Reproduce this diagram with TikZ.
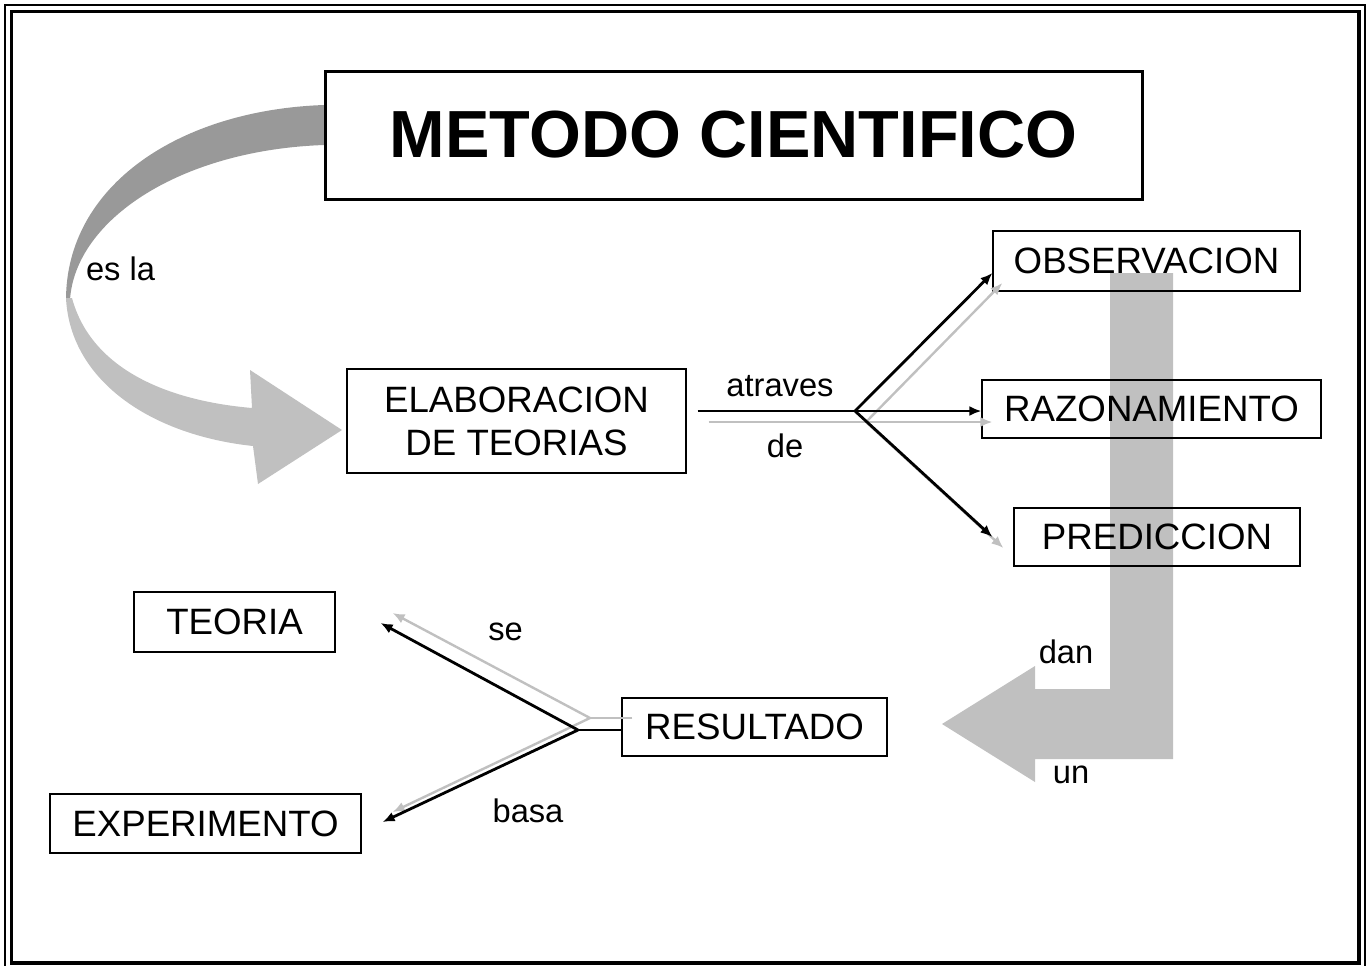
\documentclass[tikz,border=0pt]{standalone}
\usepackage{fontspec}
\setmainfont{Liberation Sans}
\usetikzlibrary{arrows.meta,calc}
\definecolor{lgray}{HTML}{C0C0C0}
\definecolor{dgray}{HTML}{999999}
\begin{document}
\begin{tikzpicture}[x=0.75pt,y=-0.75pt,
  box/.style={draw=black,line width=0.9pt,inner sep=0pt,align=center,
    font=\fontsize{27.5}{32.25}\selectfont},
  lbl/.style={inner sep=0pt,anchor=base,font=\fontsize{24.5}{28}\selectfont},
  conn/.style={draw=black,line width=2.1pt,-{Latex[length=9pt,width=7.5pt]}},
  sconn/.style={draw=lgray,line width=1.8pt,-{Latex[length=9pt,width=7.5pt]}},
  bigarrow/.style={fill=lgray,draw=none}]
\useasboundingbox (0,0) rectangle (1370,965);
% frame
\draw[line width=1.5pt] (5,5) rectangle (1364.5,975);
\draw[line width=2.4pt] (11.5,11.5) rectangle (1359,963);
% curved arrow: dark back band
\fill[dgray] (324,105) .. controls (180,110) and (66,185) .. (66,300)
  -- (70,300) .. controls (75,220) and (180,150) .. (324,145) -- cycle;
% curved arrow: light front band with head
\fill[lgray] (66,298) .. controls (70,380) and (150,435) .. (253,446)
  -- (258,484) -- (342,430) -- (250,370) -- (252,408)
  .. controls (160,400) and (90,365) .. (72,298) -- cycle;
% big L arrow
\fill[bigarrow] (1110,273) -- (1173,273) -- (1173,759) -- (1035,759)
  -- (1035,782) -- (942,724) -- (1035,666) -- (1035,689) -- (1110,689) -- cycle;
% nodes
\node[box,minimum width=612.75pt,minimum height=96pt,line width=2.25pt,
  font=\fontsize{50}{60}\selectfont\bfseries] (title) at (733.5,135) {METODO CIENTIFICO};
\node[box,minimum width=254.25pt,minimum height=78pt] (elab) at (516.5,421) {ELABORACION\\DE TEORIAS};
\node[box,minimum width=230.25pt,minimum height=45pt] (obs) at (1146.5,261) {OBSERVACION};
\node[box,minimum width=254.25pt,minimum height=43.5pt] (raz) at (1151.5,409) {RAZONAMIENTO};
\node[box,minimum width=214.5pt,minimum height=43.5pt] (pred) at (1157,537) {PREDICCION};
\node[box,minimum width=150.75pt,minimum height=45pt] (teoria) at (234.5,622) {TEORIA};
\node[box,minimum width=233.25pt,minimum height=44.25pt] (exp) at (205.5,823.5) {EXPERIMENTO};
\node[box,minimum width=198.75pt,minimum height=43.5pt] (res) at (754.5,727) {RESULTADO};
% junctions
\coordinate (j1) at (855,411);
\coordinate (g1) at ($(j1)+(11,11)$);
\coordinate (j2) at (578,730);
\coordinate (g2) at ($(j2)+(12,-12)$);
% shadow connectors
\draw[sconn,-] ($(elab.east)+(22,1)$) -- (g1);
\draw[sconn] (g1) -- ($(obs.west)+(10,22)$);
\draw[sconn] (g1) -- ($(raz.west)+(11,13)$);
\draw[sconn] (g1) -- ($(pred.west)+(-10,11)$);
\draw[sconn,-] ($(res.west)+(11,-9)$) -- (g2);
\draw[sconn] (g2) -- ($(teoria.east)+(57,-9)$);
\draw[sconn] (g2) -- ($(exp.east)+(31,-11.5)$);
% black connectors
\draw[conn,-] ($(elab.east)+(11,-10)$) -- (j1);
\draw[conn] (j1) -- ($(obs.west)+(0,12)$);
\draw[conn] (j1) -- (j1 -| raz.west);
\draw[conn] (j1) -- ($(pred.west)+(-21,0)$);
\draw[conn,-] (res.west |- j2) -- (j2);
\draw[conn] (j2) -- ($(teoria.east)+(45,1)$);
\draw[conn] (j2) -- ($(exp.east)+(21,-1.5)$);
% labels
\node[lbl] (l1) at (120.5,280) {es la};
\node[lbl] (l2) at (780,396) {atraves};
\node[lbl] (l3) at (785,457) {de};
\node[lbl] (l4) at (505.5,640) {se};
\node[lbl] (l5) at (528,822) {basa};
\node[lbl] (l6) at (1066,663) {dan};
\node[lbl] (l7) at (1071,783) {un};
\end{tikzpicture}
\end{document}
